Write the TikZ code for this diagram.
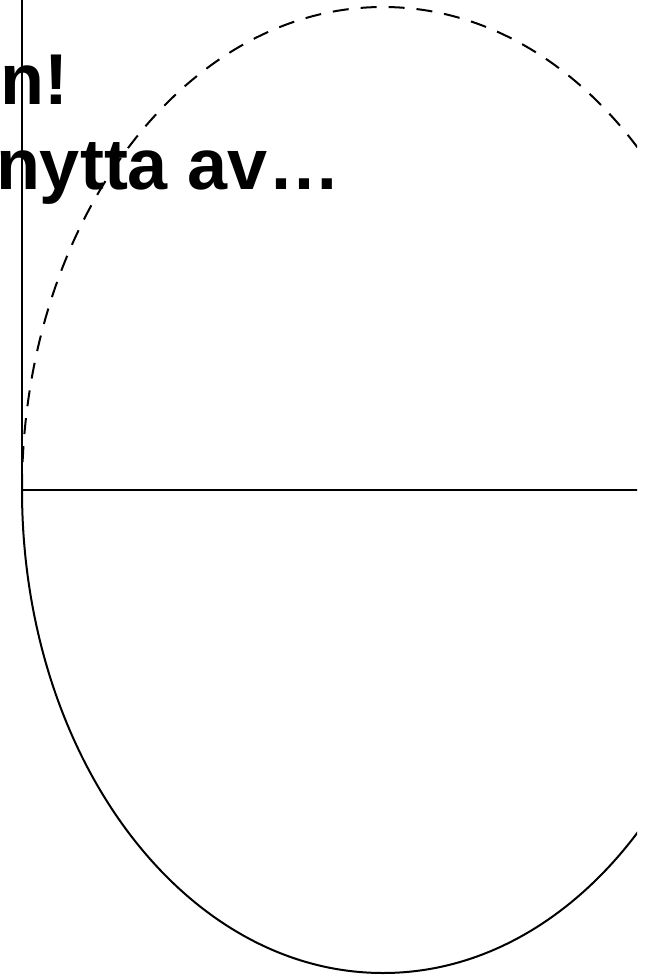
\documentclass[tikz,border=0pt]{standalone}
\usepackage{fontspec}
\setmainfont{Liberation Sans}

\begin{document}
\begin{tikzpicture}[x=1pt,y=1pt,line width=2pt,
    title/.style={anchor=base west,inner sep=0pt,font=\fontsize{72}{86}\selectfont\bfseries},
    half/.style={x radius=361,y radius=483}]
  \useasboundingbox (0,0) rectangle (651,-976);
  \coordinate (top) at (22,0);
  \coordinate (left) at (22,-490);
  \coordinate (right) at (651,-490);
  \node[title] (l1) at (0,-105) {n!};
  \node[title] (l2) at (-5,-190) {nytta av\dots};
  \draw (top) -- (left);
  \begin{scope}
    \clip (0,0) rectangle (637,-976);
    \draw (left) -- (right);
    \draw (left) arc[start angle=180,end angle=360,half];
    \draw[dash pattern=on 16pt off 12pt] (left) arc[start angle=180,end angle=0,half];
  \end{scope}
\end{tikzpicture}
\end{document}
